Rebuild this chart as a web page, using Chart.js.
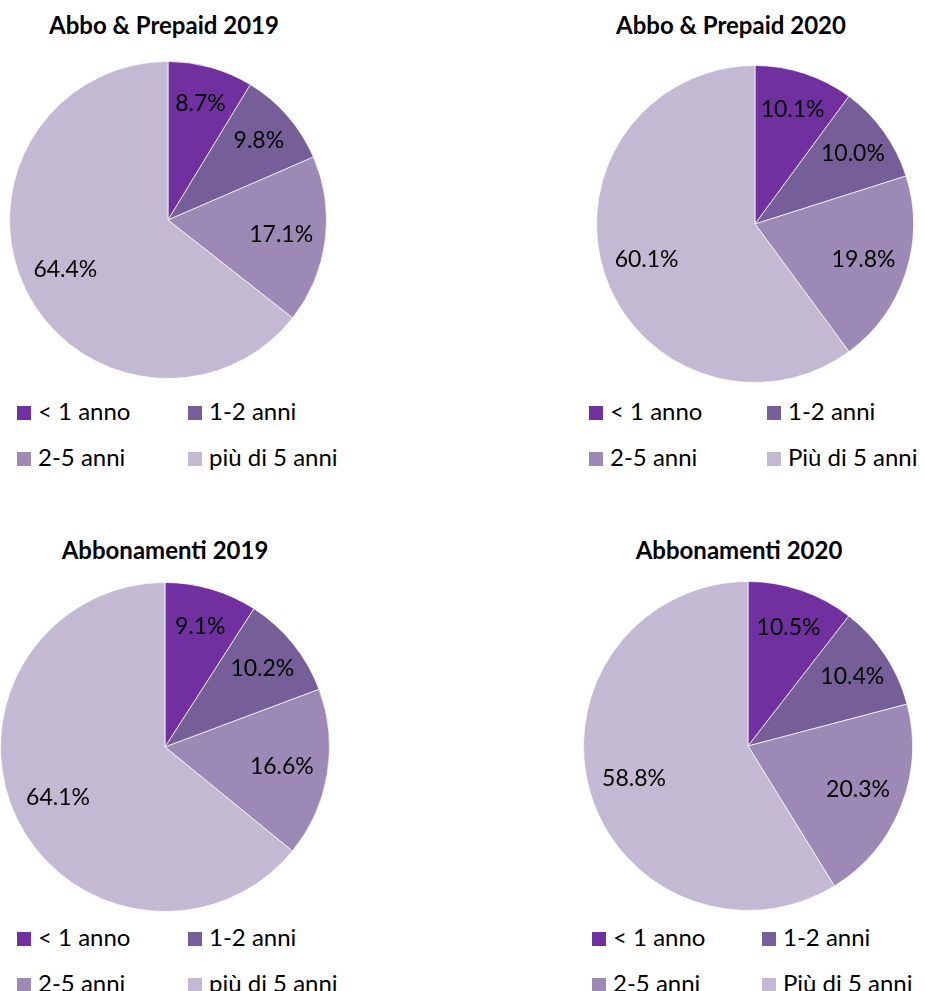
<!DOCTYPE html>
<html lang="it">
<head>
<meta charset="utf-8">
<title>Anzianità clienti</title>
<script src="https://cdn.jsdelivr.net/npm/chart.js@4.4.1/dist/chart.umd.min.js"></script>
<style>
  html, body { margin: 0; padding: 0; background: #ffffff; }
  #page { position: relative; width: 925px; height: 991px; overflow: hidden; background: #ffffff;
          font-family: Lato, "Open Sans", sans-serif; color: #000; }
  .title { position: absolute; font-weight: bold; font-size: 24px; white-space: nowrap;
           transform: translateX(-50%); line-height: 28px; }
  canvas.pie { position: absolute; }
  .legend-item { position: absolute; font-size: 24px; line-height: 28px; white-space: nowrap; }
  .legend-box { display: inline-block; width: 14px; height: 14px; margin-right: 7px; vertical-align: 0px; }
</style>
</head>
<body>
<div id="page"></div>
<script>
// Category labels for each year
const categories2019 = ['< 1 anno', '1-2 anni', '2-5 anni', 'più di 5 anni'];
const categories2020 = ['< 1 anno', '1-2 anni', '2-5 anni', 'Più di 5 anni'];

// Shares (%) by customer tenure
const abboPrepaid2019 = [8.7, 9.8, 17.1, 64.4];
const abboPrepaid2020 = [10.1, 10.0, 19.8, 60.1];
const abbonamenti2019 = [9.1, 10.2, 16.6, 64.1];
const abbonamenti2020 = [10.5, 10.4, 20.3, 58.8];

// Chart titles
const titles = ['Abbo & Prepaid 2019', 'Abbo & Prepaid 2020', 'Abbonamenti 2019', 'Abbonamenti 2020'];

const sliceColors = ['#7030A0', '#765E98', '#9C89B6', '#C4B9D3'];

// Panel layout: pie centre/radius, title centre, legend origin and column gap
const panels = [
  { title: titles[0], labels: categories2019, values: abboPrepaid2019,
    cx: 168, cy: 220, r: 158, tx: 164, ty: 11, lx: 17, ly: 397, col: 171 },
  { title: titles[1], labels: categories2020, values: abboPrepaid2020,
    cx: 755, cy: 224, r: 158, tx: 731, ty: 11, lx: 589, ly: 397, col: 178 },
  { title: titles[2], labels: categories2019, values: abbonamenti2019,
    cx: 165, cy: 747, r: 164, tx: 165, ty: 536, lx: 17, ly: 923, col: 171 },
  { title: titles[3], labels: categories2020, values: abbonamenti2020,
    cx: 748, cy: 746, r: 164, tx: 739, ty: 536, lx: 592, ly: 923, col: 170 }
];

// Percent labels drawn inside each slice
const sliceLabels = {
  id: 'sliceLabels',
  afterDatasetsDraw(chart) {
    const ctx = chart.ctx;
    const meta = chart.getDatasetMeta(0);
    const data = chart.data.datasets[0].data;
    ctx.save();
    ctx.font = '23px Lato, "Open Sans", sans-serif';
    ctx.fillStyle = '#000000';
    ctx.textAlign = 'center';
    ctx.textBaseline = 'middle';
    meta.data.forEach((arc, i) => {
      const p = arc.getProps(['x', 'y', 'startAngle', 'endAngle', 'outerRadius'], true);
      const mid = (p.startAngle + p.endAngle) / 2;
      const span = p.endAngle - p.startAngle;
      const f = span < 0.7 ? 0.76 : 0.72;
      const x = p.x + Math.cos(mid) * p.outerRadius * f;
      const y = p.y + Math.sin(mid) * p.outerRadius * f;
      ctx.fillText(data[i].toFixed(1) + '%', x, y);
    });
    ctx.restore();
  }
};

const page = document.getElementById('page');

panels.forEach(pn => {
  const t = document.createElement('div');
  t.className = 'title';
  t.textContent = pn.title;
  t.style.left = pn.tx + 'px';
  t.style.top = pn.ty + 'px';
  page.appendChild(t);

  const size = pn.r * 2 + 2;
  const cv = document.createElement('canvas');
  cv.className = 'pie';
  cv.width = size;
  cv.height = size;
  cv.style.width = size + 'px';
  cv.style.height = size + 'px';
  cv.style.left = (pn.cx - pn.r - 1) + 'px';
  cv.style.top = (pn.cy - pn.r - 1) + 'px';
  page.appendChild(cv);

  const chart = new Chart(cv, {
    type: 'pie',
    data: {
      labels: pn.labels,
      datasets: [{
        data: pn.values,
        backgroundColor: sliceColors,
        borderColor: 'rgba(255,255,255,0.7)',
        borderWidth: 1
      }]
    },
    options: {
      responsive: false,
      devicePixelRatio: 1,
      animation: false,
      layout: { padding: 0 },
      plugins: {
        legend: { display: false },
        tooltip: { enabled: false },
        title: { display: false }
      }
    },
    plugins: [sliceLabels]
  });

  // Two-column legend built from the chart's own legend items
  const items = Chart.overrides.pie.plugins.legend.labels.generateLabels(chart);
  items.forEach((it, i) => {
    const d = document.createElement('div');
    d.className = 'legend-item';
    d.style.left = (pn.lx + (i % 2) * pn.col) + 'px';
    d.style.top = (pn.ly + Math.floor(i / 2) * 46) + 'px';
    const b = document.createElement('span');
    b.className = 'legend-box';
    b.style.background = it.fillStyle;
    d.appendChild(b);
    d.appendChild(document.createTextNode(it.text));
    page.appendChild(d);
  });
});
</script>
</body>
</html>
